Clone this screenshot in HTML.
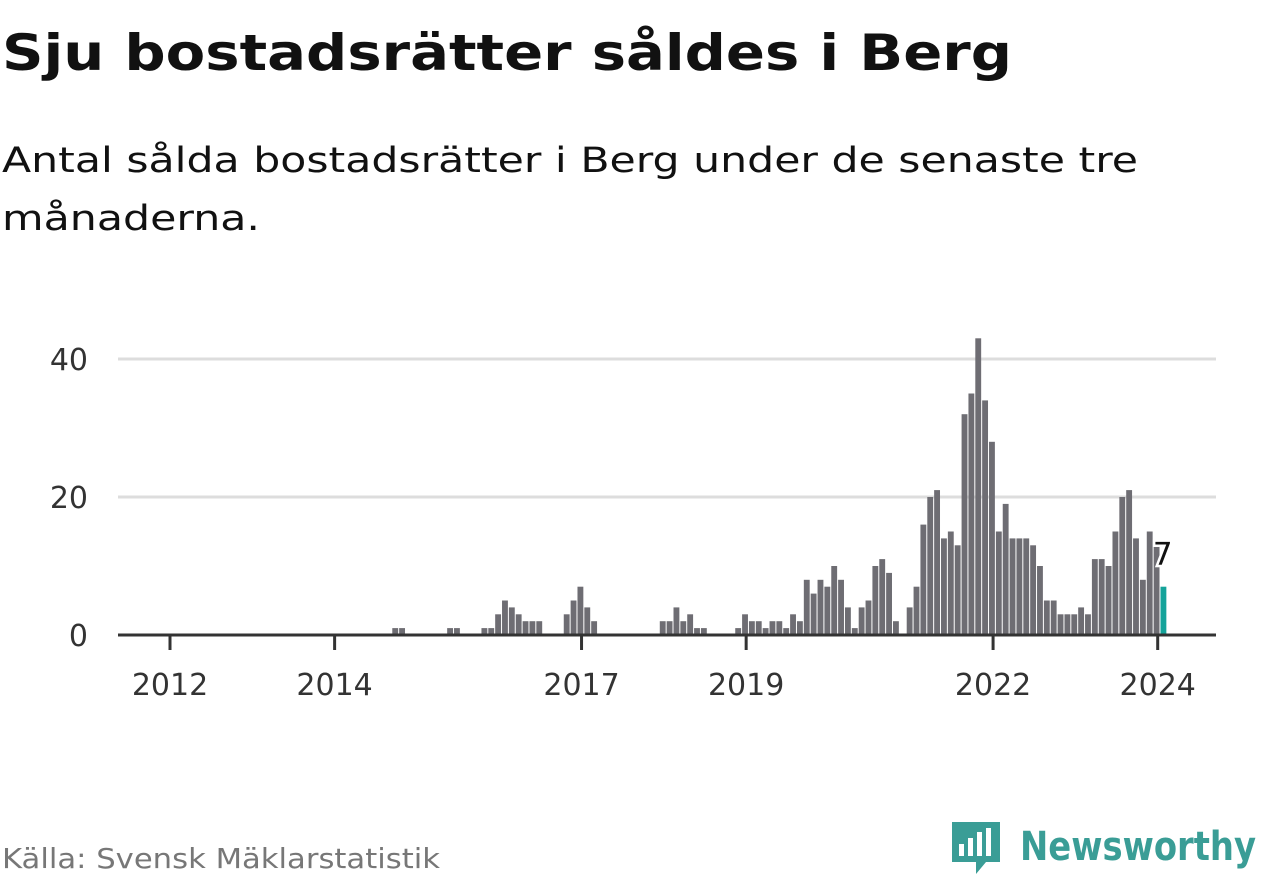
<!DOCTYPE html>
<html><head><meta charset="utf-8">
<style>
body{margin:0;width:1262px;height:879px;overflow:hidden;background:#fff;font-family:"DejaVu Sans","Liberation Sans",sans-serif;}
svg{position:absolute;left:0;top:0}
</style></head>
<body>
<svg width="1262" height="879">
<text x="2" y="70" font-size="50" font-weight="bold" fill="#111" textLength="1010" lengthAdjust="spacingAndGlyphs">Sju bostadsrätter såldes i Berg</text>
<text x="2" y="172" font-size="35" fill="#111" textLength="1136" lengthAdjust="spacingAndGlyphs">Antal sålda bostadsrätter i Berg under de senaste tre</text>
<text x="2" y="230" font-size="35" fill="#111" textLength="258" lengthAdjust="spacingAndGlyphs">månaderna.</text>
<g id="grid"></g>
<g id="bars"></g>
<g id="axis"></g>
<text x="2" y="868" font-size="28" fill="#777" textLength="438" lengthAdjust="spacingAndGlyphs">Källa: Svensk Mäklarstatistik</text>
<g>
<path d="M952 822 h48 v40 h-14 l-10 12 v-12 h-24 z" fill="#3a9d96"/>
<rect x="959" y="844" width="5" height="12" fill="#fff"/>
<rect x="968" y="838" width="5" height="18" fill="#fff"/>
<rect x="977" y="832" width="5" height="24" fill="#fff"/>
<rect x="986" y="828" width="5" height="28" fill="#fff"/>
<text x="1020" y="860" font-size="40" font-weight="bold" fill="#3a9d96" textLength="236" lengthAdjust="spacingAndGlyphs">Newsworthy</text>
</g>
</svg>
<script>
const values=[0,0,0,0,0,0,0,0,0,0,0,0,0,0,0,0,0,0,0,0,0,0,0,0,0,0,0,0,0,0,0,0,
1,1,0,0,0,0,0,0,1,1,0,0,0,1,1,3,5,4,3,2,2,2,0,0,0,3,5,7,4,2,0,0,0,0,0,0,0,0,0,
2,2,4,2,3,1,1,0,0,0,0,1,3,2,2,1,2,2,1,3,2,8,6,8,7,10,8,4,1,4,5,10,11,9,2,0,4,7,
16,20,21,14,15,13,32,35,43,34,28,15,19,14,14,14,13,10,5,5,3,3,3,4,3,11,11,10,15,20,21,14,8,15,13,7];
const startYear=2012;
const yTicks=[0,20,40];
const xTickYears=[2012,2014,2017,2019,2022,2024];
const NS="http://www.w3.org/2000/svg";
const x0=170,pitch=6.859,y0=635,ppu=6.9;
const xScale=i=>x0+pitch*i;
const yScale=v=>y0-ppu*v;
function mk(t,a,p){const e=document.createElementNS(NS,t);for(const k in a)e.setAttribute(k,a[k]);p.appendChild(e);return e;}
const grid=document.getElementById('grid'),bars=document.getElementById('bars'),axis=document.getElementById('axis');
yTicks.forEach(v=>{
 if(v>0){const l=mk('line',{x1:118,x2:1216,y1:yScale(v),y2:yScale(v),stroke:'#ddd','stroke-width':3},grid);
 
 }
 const t=mk('text',{x:88,y:yScale(v)+11,'font-size':30,fill:'#333','text-anchor':'end'},grid);
 t.textContent=v;
 
 
});
values.forEach((v,i)=>{
 if(v<=0)return;
 const last=i===values.length-1;
 const r=mk('rect',{x:xScale(i)+2.8,y:yScale(v),width:pitch-1,height:ppu*v,fill:last?'#14a39a':'#6e6d73'},bars);
 
 
});
const bl=mk('line',{x1:118,x2:1216,y1:y0,y2:y0,stroke:'#333','stroke-width':3},axis);


xTickYears.forEach(y=>{
 const x=xScale((y-startYear)*12);
 const tk=mk('line',{x1:x,x2:x,y1:y0,y2:y0+15,stroke:'#333','stroke-width':3},axis);
 
 
 const t=mk('text',{x:x,y:695,'font-size':30,fill:'#333','text-anchor':'middle'},axis);
 t.textContent=y;
 
 
});
const li=values.length-1;
const lab=mk('text',{x:xScale(li)+5,y:yScale(values[li])-22,'font-size':31,fill:'#111','text-anchor':'middle',stroke:'#fff','stroke-width':5,'paint-order':'stroke'},axis);
lab.textContent=values[li];


</script>
</body></html>
